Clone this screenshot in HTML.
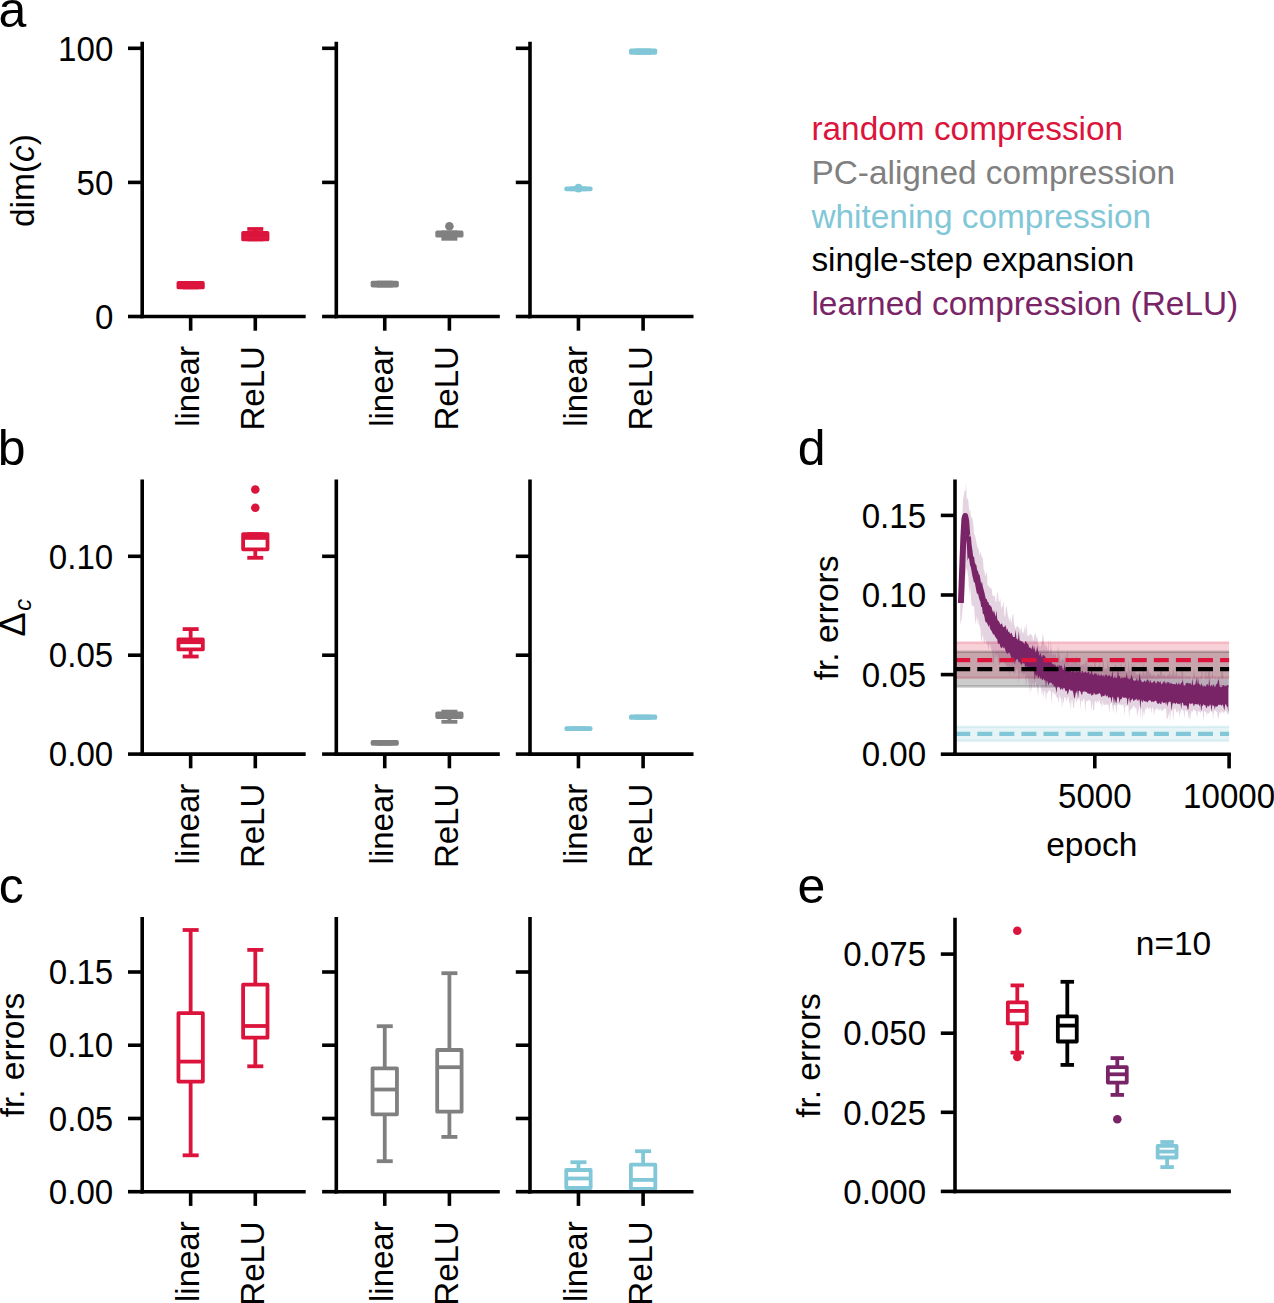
<!DOCTYPE html>
<html><head><meta charset="utf-8"><title>figure</title>
<style>html,body{margin:0;padding:0;background:#fff;overflow:hidden;}svg{display:block;}text{font-family:"Liberation Sans",sans-serif;}</style>
</head><body>
<svg width="1274" height="1303" viewBox="0 0 1274 1303" font-family="Liberation Sans, sans-serif">
<rect width="1274" height="1303" fill="#fff"/>
<text x="-1.60" y="27.40" font-size="50" text-anchor="start" fill="#000000" >a</text>
<text x="-2.20" y="465.00" font-size="50" text-anchor="start" fill="#000000" >b</text>
<text x="-1.20" y="902.90" font-size="50" text-anchor="start" fill="#000000" >c</text>
<text x="797.80" y="465.00" font-size="50" text-anchor="start" fill="#000000" >d</text>
<text x="797.60" y="902.90" font-size="50" text-anchor="start" fill="#000000" >e</text>
<text transform="translate(33.80,180.50) rotate(-90)" font-size="33.5" text-anchor="middle" fill="#000000">dim(<tspan font-style="italic">c</tspan>)</text>
<line x1="184.55" y1="283.00" x2="196.75" y2="283.00" stroke="#DC143C" stroke-width="3.8" stroke-linecap="square" />
<line x1="184.55" y1="287.40" x2="196.75" y2="287.40" stroke="#DC143C" stroke-width="3.8" stroke-linecap="square" />
<rect x="178.45" y="283.00" width="24.40" height="4.40" fill="none" stroke="#DC143C" stroke-width="3.8" stroke-linejoin="round"/>
<line x1="178.45" y1="285.20" x2="202.85" y2="285.20" stroke="#DC143C" stroke-width="3.8" stroke-linecap="butt" />
<line x1="255.30" y1="229.00" x2="255.30" y2="233.00" stroke="#DC143C" stroke-width="3.8" stroke-linecap="butt" />
<line x1="249.20" y1="229.00" x2="261.40" y2="229.00" stroke="#DC143C" stroke-width="3.8" stroke-linecap="square" />
<line x1="249.20" y1="239.40" x2="261.40" y2="239.40" stroke="#DC143C" stroke-width="3.8" stroke-linecap="square" />
<rect x="243.10" y="233.00" width="24.40" height="6.40" fill="none" stroke="#DC143C" stroke-width="3.8" stroke-linejoin="round"/>
<line x1="243.10" y1="236.00" x2="267.50" y2="236.00" stroke="#DC143C" stroke-width="3.8" stroke-linecap="butt" />
<line x1="378.65" y1="282.60" x2="390.85" y2="282.60" stroke="#808080" stroke-width="3.8" stroke-linecap="square" />
<line x1="378.65" y1="285.60" x2="390.85" y2="285.60" stroke="#808080" stroke-width="3.8" stroke-linecap="square" />
<rect x="372.55" y="282.60" width="24.40" height="3.00" fill="none" stroke="#808080" stroke-width="3.8" stroke-linejoin="round"/>
<line x1="372.55" y1="284.10" x2="396.95" y2="284.10" stroke="#808080" stroke-width="3.8" stroke-linecap="butt" />
<line x1="449.40" y1="235.70" x2="449.40" y2="238.80" stroke="#808080" stroke-width="3.8" stroke-linecap="butt" />
<line x1="443.30" y1="232.40" x2="455.50" y2="232.40" stroke="#808080" stroke-width="3.8" stroke-linecap="square" />
<line x1="443.30" y1="238.80" x2="455.50" y2="238.80" stroke="#808080" stroke-width="3.8" stroke-linecap="square" />
<rect x="437.20" y="232.40" width="24.40" height="3.30" fill="none" stroke="#808080" stroke-width="3.8" stroke-linejoin="round"/>
<line x1="437.20" y1="234.00" x2="461.60" y2="234.00" stroke="#808080" stroke-width="3.8" stroke-linecap="butt" />
<circle cx="449.40" cy="226.20" r="4.3" fill="#808080"/>
<line x1="572.35" y1="188.30" x2="584.55" y2="188.30" stroke="#82C7D7" stroke-width="3.8" stroke-linecap="square" />
<line x1="572.35" y1="189.30" x2="584.55" y2="189.30" stroke="#82C7D7" stroke-width="3.8" stroke-linecap="square" />
<rect x="566.25" y="188.30" width="24.40" height="1.00" fill="none" stroke="#82C7D7" stroke-width="3.8" stroke-linejoin="round"/>
<line x1="566.25" y1="188.80" x2="590.65" y2="188.80" stroke="#82C7D7" stroke-width="3.8" stroke-linecap="butt" />
<circle cx="578.45" cy="188.10" r="4.3" fill="#82C7D7"/>
<line x1="637.00" y1="50.30" x2="649.20" y2="50.30" stroke="#82C7D7" stroke-width="3.8" stroke-linecap="square" />
<line x1="637.00" y1="52.80" x2="649.20" y2="52.80" stroke="#82C7D7" stroke-width="3.8" stroke-linecap="square" />
<rect x="630.90" y="50.30" width="24.40" height="2.50" fill="none" stroke="#82C7D7" stroke-width="3.8" stroke-linejoin="round"/>
<line x1="630.90" y1="51.50" x2="655.30" y2="51.50" stroke="#82C7D7" stroke-width="3.8" stroke-linecap="butt" />
<text x="811.40" y="140.10" font-size="33.4" text-anchor="start" fill="#DC143C" >random compression</text>
<text x="811.40" y="183.82" font-size="33.4" text-anchor="start" fill="#808080" >PC-aligned compression</text>
<text x="811.40" y="227.54" font-size="33.4" text-anchor="start" fill="#82C7D7" >whitening compression</text>
<text x="811.40" y="271.26" font-size="33.4" text-anchor="start" fill="#000000" >single-step expansion</text>
<text x="811.40" y="314.98" font-size="33.4" text-anchor="start" fill="#7A2468" >learned compression (ReLU)</text>
<text transform="translate(24.8,636.4) rotate(-90)" font-size="36" text-anchor="start">Δ<tspan font-size="23.5" font-style="italic" dy="5.8" dx="1.5">c</tspan></text>
<line x1="190.65" y1="629.10" x2="190.65" y2="639.40" stroke="#DC143C" stroke-width="3.8" stroke-linecap="butt" />
<line x1="190.65" y1="649.40" x2="190.65" y2="656.50" stroke="#DC143C" stroke-width="3.8" stroke-linecap="butt" />
<line x1="184.55" y1="629.10" x2="196.75" y2="629.10" stroke="#DC143C" stroke-width="3.8" stroke-linecap="square" />
<line x1="184.55" y1="656.50" x2="196.75" y2="656.50" stroke="#DC143C" stroke-width="3.8" stroke-linecap="square" />
<rect x="178.45" y="639.40" width="24.40" height="10.00" fill="none" stroke="#DC143C" stroke-width="3.8" stroke-linejoin="round"/>
<line x1="178.45" y1="642.20" x2="202.85" y2="642.20" stroke="#DC143C" stroke-width="3.8" stroke-linecap="butt" />
<line x1="255.30" y1="549.30" x2="255.30" y2="557.80" stroke="#DC143C" stroke-width="3.8" stroke-linecap="butt" />
<line x1="249.20" y1="534.10" x2="261.40" y2="534.10" stroke="#DC143C" stroke-width="3.8" stroke-linecap="square" />
<line x1="249.20" y1="557.80" x2="261.40" y2="557.80" stroke="#DC143C" stroke-width="3.8" stroke-linecap="square" />
<rect x="243.10" y="534.10" width="24.40" height="15.20" fill="none" stroke="#DC143C" stroke-width="3.8" stroke-linejoin="round"/>
<line x1="243.10" y1="537.90" x2="267.50" y2="537.90" stroke="#DC143C" stroke-width="3.8" stroke-linecap="butt" />
<circle cx="255.30" cy="489.50" r="4.3" fill="#DC143C"/>
<circle cx="255.30" cy="507.70" r="4.3" fill="#DC143C"/>
<line x1="378.65" y1="742.00" x2="390.85" y2="742.00" stroke="#808080" stroke-width="3.8" stroke-linecap="square" />
<line x1="378.65" y1="743.80" x2="390.85" y2="743.80" stroke="#808080" stroke-width="3.8" stroke-linecap="square" />
<rect x="372.55" y="742.00" width="24.40" height="1.80" fill="none" stroke="#808080" stroke-width="3.8" stroke-linejoin="round"/>
<line x1="372.55" y1="742.90" x2="396.95" y2="742.90" stroke="#808080" stroke-width="3.8" stroke-linecap="butt" />
<line x1="449.40" y1="711.60" x2="449.40" y2="713.50" stroke="#808080" stroke-width="3.8" stroke-linecap="butt" />
<line x1="449.40" y1="717.00" x2="449.40" y2="721.80" stroke="#808080" stroke-width="3.8" stroke-linecap="butt" />
<line x1="443.30" y1="711.60" x2="455.50" y2="711.60" stroke="#808080" stroke-width="3.8" stroke-linecap="square" />
<line x1="443.30" y1="721.80" x2="455.50" y2="721.80" stroke="#808080" stroke-width="3.8" stroke-linecap="square" />
<rect x="437.20" y="713.50" width="24.40" height="3.50" fill="none" stroke="#808080" stroke-width="3.8" stroke-linejoin="round"/>
<line x1="437.20" y1="715.00" x2="461.60" y2="715.00" stroke="#808080" stroke-width="3.8" stroke-linecap="butt" />
<line x1="572.35" y1="728.20" x2="584.55" y2="728.20" stroke="#82C7D7" stroke-width="3.8" stroke-linecap="square" />
<line x1="572.35" y1="729.10" x2="584.55" y2="729.10" stroke="#82C7D7" stroke-width="3.8" stroke-linecap="square" />
<rect x="566.25" y="728.20" width="24.40" height="0.90" fill="none" stroke="#82C7D7" stroke-width="3.8" stroke-linejoin="round"/>
<line x1="566.25" y1="728.60" x2="590.65" y2="728.60" stroke="#82C7D7" stroke-width="3.8" stroke-linecap="butt" />
<line x1="637.00" y1="716.50" x2="649.20" y2="716.50" stroke="#82C7D7" stroke-width="3.8" stroke-linecap="square" />
<line x1="637.00" y1="717.90" x2="649.20" y2="717.90" stroke="#82C7D7" stroke-width="3.8" stroke-linecap="square" />
<rect x="630.90" y="716.50" width="24.40" height="1.40" fill="none" stroke="#82C7D7" stroke-width="3.8" stroke-linejoin="round"/>
<line x1="630.90" y1="717.20" x2="655.30" y2="717.20" stroke="#82C7D7" stroke-width="3.8" stroke-linecap="butt" />
<text transform="translate(24.20,1055.00) rotate(-90)" font-size="33.5" text-anchor="middle" fill="#000000">fr. errors</text>
<line x1="190.65" y1="930.00" x2="190.65" y2="1013.20" stroke="#DC143C" stroke-width="3.8" stroke-linecap="butt" />
<line x1="190.65" y1="1081.60" x2="190.65" y2="1155.30" stroke="#DC143C" stroke-width="3.8" stroke-linecap="butt" />
<line x1="184.55" y1="930.00" x2="196.75" y2="930.00" stroke="#DC143C" stroke-width="3.8" stroke-linecap="square" />
<line x1="184.55" y1="1155.30" x2="196.75" y2="1155.30" stroke="#DC143C" stroke-width="3.8" stroke-linecap="square" />
<rect x="178.45" y="1013.20" width="24.40" height="68.40" fill="none" stroke="#DC143C" stroke-width="3.8" stroke-linejoin="round"/>
<line x1="178.45" y1="1061.60" x2="202.85" y2="1061.60" stroke="#DC143C" stroke-width="3.8" stroke-linecap="butt" />
<line x1="255.30" y1="949.90" x2="255.30" y2="984.70" stroke="#DC143C" stroke-width="3.8" stroke-linecap="butt" />
<line x1="255.30" y1="1037.70" x2="255.30" y2="1066.30" stroke="#DC143C" stroke-width="3.8" stroke-linecap="butt" />
<line x1="249.20" y1="949.90" x2="261.40" y2="949.90" stroke="#DC143C" stroke-width="3.8" stroke-linecap="square" />
<line x1="249.20" y1="1066.30" x2="261.40" y2="1066.30" stroke="#DC143C" stroke-width="3.8" stroke-linecap="square" />
<rect x="243.10" y="984.70" width="24.40" height="53.00" fill="none" stroke="#DC143C" stroke-width="3.8" stroke-linejoin="round"/>
<line x1="243.10" y1="1026.00" x2="267.50" y2="1026.00" stroke="#DC143C" stroke-width="3.8" stroke-linecap="butt" />
<line x1="384.75" y1="1026.20" x2="384.75" y2="1068.30" stroke="#808080" stroke-width="3.8" stroke-linecap="butt" />
<line x1="384.75" y1="1114.30" x2="384.75" y2="1161.20" stroke="#808080" stroke-width="3.8" stroke-linecap="butt" />
<line x1="378.65" y1="1026.20" x2="390.85" y2="1026.20" stroke="#808080" stroke-width="3.8" stroke-linecap="square" />
<line x1="378.65" y1="1161.20" x2="390.85" y2="1161.20" stroke="#808080" stroke-width="3.8" stroke-linecap="square" />
<rect x="372.55" y="1068.30" width="24.40" height="46.00" fill="none" stroke="#808080" stroke-width="3.8" stroke-linejoin="round"/>
<line x1="372.55" y1="1089.50" x2="396.95" y2="1089.50" stroke="#808080" stroke-width="3.8" stroke-linecap="butt" />
<line x1="449.40" y1="973.20" x2="449.40" y2="1050.00" stroke="#808080" stroke-width="3.8" stroke-linecap="butt" />
<line x1="449.40" y1="1111.70" x2="449.40" y2="1136.90" stroke="#808080" stroke-width="3.8" stroke-linecap="butt" />
<line x1="443.30" y1="973.20" x2="455.50" y2="973.20" stroke="#808080" stroke-width="3.8" stroke-linecap="square" />
<line x1="443.30" y1="1136.90" x2="455.50" y2="1136.90" stroke="#808080" stroke-width="3.8" stroke-linecap="square" />
<rect x="437.20" y="1050.00" width="24.40" height="61.70" fill="none" stroke="#808080" stroke-width="3.8" stroke-linejoin="round"/>
<line x1="437.20" y1="1067.20" x2="461.60" y2="1067.20" stroke="#808080" stroke-width="3.8" stroke-linecap="butt" />
<line x1="578.45" y1="1162.20" x2="578.45" y2="1170.00" stroke="#82C7D7" stroke-width="3.8" stroke-linecap="butt" />
<line x1="578.45" y1="1188.00" x2="578.45" y2="1190.50" stroke="#82C7D7" stroke-width="3.8" stroke-linecap="butt" />
<line x1="572.35" y1="1162.20" x2="584.55" y2="1162.20" stroke="#82C7D7" stroke-width="3.8" stroke-linecap="square" />
<line x1="572.35" y1="1190.50" x2="584.55" y2="1190.50" stroke="#82C7D7" stroke-width="3.8" stroke-linecap="square" />
<rect x="566.25" y="1170.00" width="24.40" height="18.00" fill="none" stroke="#82C7D7" stroke-width="3.8" stroke-linejoin="round"/>
<line x1="566.25" y1="1178.50" x2="590.65" y2="1178.50" stroke="#82C7D7" stroke-width="3.8" stroke-linecap="butt" />
<line x1="643.10" y1="1151.20" x2="643.10" y2="1164.70" stroke="#82C7D7" stroke-width="3.8" stroke-linecap="butt" />
<line x1="643.10" y1="1189.00" x2="643.10" y2="1191.00" stroke="#82C7D7" stroke-width="3.8" stroke-linecap="butt" />
<line x1="637.00" y1="1151.20" x2="649.20" y2="1151.20" stroke="#82C7D7" stroke-width="3.8" stroke-linecap="square" />
<line x1="637.00" y1="1191.00" x2="649.20" y2="1191.00" stroke="#82C7D7" stroke-width="3.8" stroke-linecap="square" />
<rect x="630.90" y="1164.70" width="24.40" height="24.30" fill="none" stroke="#82C7D7" stroke-width="3.8" stroke-linejoin="round"/>
<line x1="630.90" y1="1179.90" x2="655.30" y2="1179.90" stroke="#82C7D7" stroke-width="3.8" stroke-linecap="butt" />
<text transform="translate(820.00,1055.50) rotate(-90)" font-size="33.5" text-anchor="middle" fill="#000000">fr. errors</text>
<text x="1135.80" y="954.80" font-size="33.5" text-anchor="start" fill="#000000" >n=10</text>
<line x1="1017.30" y1="985.40" x2="1017.30" y2="1002.30" stroke="#DC143C" stroke-width="3.8" stroke-linecap="butt" />
<line x1="1017.30" y1="1023.40" x2="1017.30" y2="1052.60" stroke="#DC143C" stroke-width="3.8" stroke-linecap="butt" />
<line x1="1012.45" y1="985.40" x2="1022.15" y2="985.40" stroke="#DC143C" stroke-width="3.8" stroke-linecap="square" />
<line x1="1012.45" y1="1052.60" x2="1022.15" y2="1052.60" stroke="#DC143C" stroke-width="3.8" stroke-linecap="square" />
<rect x="1007.85" y="1002.30" width="18.90" height="21.10" fill="none" stroke="#DC143C" stroke-width="3.8" stroke-linejoin="round"/>
<line x1="1007.85" y1="1010.90" x2="1026.75" y2="1010.90" stroke="#DC143C" stroke-width="3.8" stroke-linecap="butt" />
<circle cx="1017.30" cy="930.80" r="4.3" fill="#DC143C"/>
<circle cx="1017.30" cy="1056.90" r="4.3" fill="#DC143C"/>
<line x1="1067.30" y1="981.80" x2="1067.30" y2="1016.40" stroke="#000000" stroke-width="3.8" stroke-linecap="butt" />
<line x1="1067.30" y1="1041.50" x2="1067.30" y2="1064.90" stroke="#000000" stroke-width="3.8" stroke-linecap="butt" />
<line x1="1062.45" y1="981.80" x2="1072.15" y2="981.80" stroke="#000000" stroke-width="3.8" stroke-linecap="square" />
<line x1="1062.45" y1="1064.90" x2="1072.15" y2="1064.90" stroke="#000000" stroke-width="3.8" stroke-linecap="square" />
<rect x="1057.85" y="1016.40" width="18.90" height="25.10" fill="none" stroke="#000000" stroke-width="3.8" stroke-linejoin="round"/>
<line x1="1057.85" y1="1025.60" x2="1076.75" y2="1025.60" stroke="#000000" stroke-width="3.8" stroke-linecap="butt" />
<line x1="1117.30" y1="1058.10" x2="1117.30" y2="1067.10" stroke="#7A2468" stroke-width="3.8" stroke-linecap="butt" />
<line x1="1117.30" y1="1082.60" x2="1117.30" y2="1094.90" stroke="#7A2468" stroke-width="3.8" stroke-linecap="butt" />
<line x1="1112.45" y1="1058.10" x2="1122.15" y2="1058.10" stroke="#7A2468" stroke-width="3.8" stroke-linecap="square" />
<line x1="1112.45" y1="1094.90" x2="1122.15" y2="1094.90" stroke="#7A2468" stroke-width="3.8" stroke-linecap="square" />
<rect x="1107.85" y="1067.10" width="18.90" height="15.50" fill="none" stroke="#7A2468" stroke-width="3.8" stroke-linejoin="round"/>
<line x1="1107.85" y1="1074.30" x2="1126.75" y2="1074.30" stroke="#7A2468" stroke-width="3.8" stroke-linecap="butt" />
<circle cx="1117.30" cy="1119.20" r="4.3" fill="#7A2468"/>
<line x1="1167.10" y1="1142.00" x2="1167.10" y2="1145.90" stroke="#82C7D7" stroke-width="3.8" stroke-linecap="butt" />
<line x1="1167.10" y1="1157.50" x2="1167.10" y2="1167.10" stroke="#82C7D7" stroke-width="3.8" stroke-linecap="butt" />
<line x1="1162.25" y1="1142.00" x2="1171.95" y2="1142.00" stroke="#82C7D7" stroke-width="3.8" stroke-linecap="square" />
<line x1="1162.25" y1="1167.10" x2="1171.95" y2="1167.10" stroke="#82C7D7" stroke-width="3.8" stroke-linecap="square" />
<rect x="1157.65" y="1145.90" width="18.90" height="11.60" fill="none" stroke="#82C7D7" stroke-width="3.8" stroke-linejoin="round"/>
<line x1="1157.65" y1="1151.60" x2="1176.55" y2="1151.60" stroke="#82C7D7" stroke-width="3.8" stroke-linecap="butt" />
<rect x="955.00" y="642.50" width="274.10" height="35.20" fill="#DC143C" fill-opacity="0.2"/>
<line x1="955.00" y1="642.50" x2="1229.10" y2="642.50" stroke="#DC143C" stroke-opacity="0.2" stroke-width="2.5"/>
<line x1="955.00" y1="677.70" x2="1229.10" y2="677.70" stroke="#DC143C" stroke-opacity="0.2" stroke-width="2.5"/>
<rect x="955.00" y="651.80" width="274.10" height="34.60" fill="#000000" fill-opacity="0.2"/>
<line x1="955.00" y1="651.80" x2="1229.10" y2="651.80" stroke="#000000" stroke-opacity="0.2" stroke-width="2.5"/>
<line x1="955.00" y1="686.40" x2="1229.10" y2="686.40" stroke="#000000" stroke-opacity="0.2" stroke-width="2.5"/>
<rect x="955.00" y="726.80" width="274.10" height="14.00" fill="#82C7D7" fill-opacity="0.2"/>
<line x1="955.00" y1="726.80" x2="1229.10" y2="726.80" stroke="#82C7D7" stroke-opacity="0.2" stroke-width="2.5"/>
<line x1="955.00" y1="740.80" x2="1229.10" y2="740.80" stroke="#82C7D7" stroke-opacity="0.2" stroke-width="2.5"/>
<polygon points="960.2,622.0 960.2,590.0 961.5,540.0 963.0,500.0 964.5,491.0 965.5,491.0 966.0,482.5 966.8,500.2 967.6,497.9 968.4,501.0 969.2,512.2 970.0,508.8 970.8,516.3 971.6,516.9 972.4,518.7 973.2,522.9 974.0,533.3 974.8,535.5 975.6,538.0 976.4,541.9 977.2,546.8 978.0,547.4 978.8,550.2 979.6,555.7 980.4,551.7 981.2,554.3 982.0,558.4 982.8,556.7 983.6,569.5 984.4,570.4 985.2,576.5 986.0,574.2 986.8,571.3 987.6,586.2 988.4,585.0 989.2,586.6 990.0,587.4 990.8,589.6 991.6,587.4 992.4,595.0 993.2,596.5 994.0,595.6 994.8,595.4 995.6,601.6 996.4,602.6 997.2,590.6 998.0,595.1 998.8,602.2 999.6,601.1 1000.4,598.4 1001.2,609.7 1002.0,605.2 1002.8,606.7 1003.6,600.6 1004.4,615.3 1005.2,617.1 1006.0,607.0 1006.8,606.6 1007.6,614.2 1008.4,617.3 1009.2,619.3 1010.0,622.7 1010.8,616.4 1011.6,624.8 1012.4,614.9 1013.2,613.9 1014.0,624.0 1014.8,626.3 1015.6,628.9 1016.4,626.9 1017.2,625.6 1018.0,626.8 1018.8,627.7 1019.6,628.3 1020.4,631.9 1021.2,625.8 1022.0,631.6 1022.8,633.7 1023.6,632.5 1024.4,625.7 1025.2,635.3 1026.0,623.3 1026.8,628.1 1027.6,636.5 1028.4,635.5 1029.2,635.8 1030.0,633.5 1030.8,634.7 1031.6,634.7 1032.4,636.0 1033.2,641.6 1034.0,637.3 1034.8,634.2 1035.6,632.2 1036.4,639.0 1037.2,635.6 1038.0,643.1 1038.8,644.3 1039.6,646.3 1040.4,646.8 1041.2,644.0 1042.0,640.3 1042.8,633.0 1043.6,638.6 1044.4,645.4 1045.2,644.0 1046.0,647.7 1046.8,644.1 1047.6,651.7 1048.4,639.2 1049.2,654.2 1050.0,653.2 1050.8,639.7 1051.6,651.9 1052.4,655.9 1053.2,652.7 1054.0,654.8 1054.8,655.7 1055.6,652.4 1056.4,658.3 1057.2,658.4 1058.0,644.3 1058.8,655.4 1059.6,653.5 1060.4,660.2 1061.2,660.7 1062.0,659.8 1062.8,657.0 1063.6,660.0 1064.4,660.7 1065.2,653.4 1066.0,663.0 1066.8,654.2 1067.6,650.9 1068.4,663.3 1069.2,663.0 1070.0,662.4 1070.8,664.4 1071.6,661.5 1072.4,662.7 1073.2,662.7 1074.0,657.6 1074.8,664.5 1075.6,661.5 1076.4,655.0 1077.2,663.3 1078.0,664.7 1078.8,657.4 1079.6,663.3 1080.4,666.0 1081.2,664.3 1082.0,666.0 1082.8,663.9 1083.6,664.1 1084.4,666.5 1085.2,659.6 1086.0,666.0 1086.8,659.8 1087.6,667.4 1088.4,666.2 1089.2,665.3 1090.0,665.5 1090.8,667.6 1091.6,665.1 1092.4,665.0 1093.2,668.2 1094.0,665.8 1094.8,657.1 1095.6,664.9 1096.4,668.8 1097.2,668.6 1098.0,666.7 1098.8,666.2 1099.6,662.8 1100.4,669.1 1101.2,669.1 1102.0,669.0 1102.8,666.3 1103.6,659.3 1104.4,668.9 1105.2,668.9 1106.0,668.7 1106.8,668.4 1107.6,658.1 1108.4,666.7 1109.2,667.8 1110.0,670.9 1110.8,670.0 1111.6,671.1 1112.4,667.2 1113.2,671.4 1114.0,666.1 1114.8,668.8 1115.6,662.4 1116.4,669.3 1117.2,670.2 1118.0,668.4 1118.8,668.2 1119.6,670.4 1120.4,669.8 1121.2,660.0 1122.0,671.6 1122.8,671.6 1123.6,671.8 1124.4,672.6 1125.2,658.6 1126.0,671.1 1126.8,672.7 1127.6,671.4 1128.4,659.8 1129.2,669.4 1130.0,670.2 1130.8,672.5 1131.6,662.2 1132.4,669.7 1133.2,663.7 1134.0,673.4 1134.8,662.6 1135.6,673.5 1136.4,674.2 1137.2,674.6 1138.0,673.9 1138.8,673.9 1139.6,671.7 1140.4,672.9 1141.2,675.2 1142.0,673.9 1142.8,673.1 1143.6,662.3 1144.4,675.2 1145.2,673.9 1146.0,672.2 1146.8,665.9 1147.6,672.5 1148.4,667.4 1149.2,672.5 1150.0,673.8 1150.8,672.7 1151.6,675.7 1152.4,675.9 1153.2,673.9 1154.0,674.8 1154.8,675.9 1155.6,676.9 1156.4,676.6 1157.2,674.1 1158.0,673.5 1158.8,674.0 1159.6,675.8 1160.4,668.1 1161.2,666.5 1162.0,673.6 1162.8,676.1 1163.6,676.0 1164.4,673.5 1165.2,675.6 1166.0,677.3 1166.8,676.5 1167.6,674.4 1168.4,673.8 1169.2,675.9 1170.0,669.0 1170.8,678.1 1171.6,674.6 1172.4,674.3 1173.2,668.1 1174.0,671.9 1174.8,677.6 1175.6,675.1 1176.4,665.5 1177.2,677.7 1178.0,678.3 1178.8,672.2 1179.6,677.4 1180.4,677.3 1181.2,676.2 1182.0,665.1 1182.8,671.4 1183.6,678.1 1184.4,679.1 1185.2,676.0 1186.0,675.2 1186.8,679.2 1187.6,675.9 1188.4,677.7 1189.2,677.6 1190.0,676.0 1190.8,679.1 1191.6,679.2 1192.4,679.4 1193.2,677.4 1194.0,668.6 1194.8,675.8 1195.6,678.5 1196.4,676.4 1197.2,677.5 1198.0,676.9 1198.8,677.9 1199.6,678.9 1200.4,676.1 1201.2,677.7 1202.0,667.2 1202.8,678.6 1203.6,680.0 1204.4,678.0 1205.2,676.8 1206.0,665.3 1206.8,679.0 1207.6,676.8 1208.4,670.7 1209.2,666.9 1210.0,673.3 1210.8,679.1 1211.6,680.1 1212.4,668.3 1213.2,679.9 1214.0,679.3 1214.8,678.0 1215.6,676.6 1216.4,679.3 1217.2,677.7 1218.0,676.7 1218.8,679.1 1219.6,677.0 1220.4,679.5 1221.2,673.8 1222.0,667.5 1222.8,671.4 1223.6,677.9 1224.4,679.7 1225.2,677.0 1226.0,677.9 1226.8,678.7 1227.6,678.0 1228.4,678.6 1228.4,713.9 1227.6,714.8 1226.8,712.0 1226.0,710.9 1225.2,710.8 1224.4,712.6 1223.6,713.3 1222.8,711.0 1222.0,713.2 1221.2,710.5 1220.4,713.7 1219.6,711.8 1218.8,717.3 1218.0,718.2 1217.2,712.4 1216.4,711.4 1215.6,710.3 1214.8,711.3 1214.0,710.2 1213.2,719.3 1212.4,712.1 1211.6,712.2 1210.8,710.6 1210.0,710.5 1209.2,713.4 1208.4,713.5 1207.6,712.3 1206.8,716.4 1206.0,711.6 1205.2,712.2 1204.4,710.3 1203.6,721.7 1202.8,712.0 1202.0,709.8 1201.2,711.0 1200.4,713.7 1199.6,711.6 1198.8,711.5 1198.0,709.7 1197.2,717.5 1196.4,712.7 1195.6,711.1 1194.8,710.2 1194.0,710.1 1193.2,709.4 1192.4,712.5 1191.6,710.7 1190.8,715.0 1190.0,720.9 1189.2,713.2 1188.4,719.6 1187.6,710.2 1186.8,712.1 1186.0,710.8 1185.2,709.3 1184.4,718.5 1183.6,710.7 1182.8,710.4 1182.0,709.5 1181.2,710.2 1180.4,712.6 1179.6,717.3 1178.8,710.2 1178.0,710.7 1177.2,712.4 1176.4,712.6 1175.6,708.9 1174.8,708.5 1174.0,710.1 1173.2,721.1 1172.4,709.3 1171.6,709.5 1170.8,712.0 1170.0,720.8 1169.2,711.6 1168.4,715.7 1167.6,718.4 1166.8,719.4 1166.0,709.0 1165.2,708.1 1164.4,709.1 1163.6,710.0 1162.8,710.1 1162.0,710.8 1161.2,711.6 1160.4,708.6 1159.6,709.7 1158.8,711.0 1158.0,707.2 1157.2,710.3 1156.4,708.5 1155.6,708.7 1154.8,711.2 1154.0,715.3 1153.2,708.8 1152.4,707.1 1151.6,713.7 1150.8,707.9 1150.0,707.7 1149.2,709.4 1148.4,708.9 1147.6,706.8 1146.8,708.1 1146.0,710.8 1145.2,707.0 1144.4,715.2 1143.6,710.5 1142.8,720.2 1142.0,709.1 1141.2,708.2 1140.4,720.3 1139.6,705.8 1138.8,708.2 1138.0,713.5 1137.2,716.5 1136.4,708.4 1135.6,706.7 1134.8,709.3 1134.0,706.0 1133.2,705.7 1132.4,708.3 1131.6,708.6 1130.8,710.8 1130.0,708.4 1129.2,718.4 1128.4,706.0 1127.6,704.4 1126.8,704.0 1126.0,707.9 1125.2,703.6 1124.4,716.9 1123.6,704.0 1122.8,705.7 1122.0,704.1 1121.2,706.4 1120.4,704.0 1119.6,705.3 1118.8,704.2 1118.0,703.9 1117.2,705.9 1116.4,714.6 1115.6,705.8 1114.8,705.2 1114.0,705.2 1113.2,713.6 1112.4,706.1 1111.6,702.2 1110.8,702.9 1110.0,704.9 1109.2,713.3 1108.4,704.0 1107.6,704.6 1106.8,705.4 1106.0,703.4 1105.2,704.7 1104.4,705.1 1103.6,704.9 1102.8,700.6 1102.0,708.8 1101.2,703.4 1100.4,704.2 1099.6,700.6 1098.8,700.7 1098.0,702.9 1097.2,699.9 1096.4,703.5 1095.6,701.3 1094.8,700.6 1094.0,711.0 1093.2,710.0 1092.4,701.6 1091.6,712.0 1090.8,702.0 1090.0,700.1 1089.2,700.9 1088.4,699.7 1087.6,701.3 1086.8,700.2 1086.0,702.8 1085.2,712.4 1084.4,699.0 1083.6,698.8 1082.8,701.3 1082.0,701.9 1081.2,699.3 1080.4,709.8 1079.6,698.3 1078.8,698.1 1078.0,700.7 1077.2,698.8 1076.4,704.0 1075.6,697.8 1074.8,700.5 1074.0,707.8 1073.2,708.1 1072.4,699.4 1071.6,699.7 1070.8,710.1 1070.0,699.9 1069.2,704.5 1068.4,696.6 1067.6,697.2 1066.8,700.8 1066.0,699.6 1065.2,697.3 1064.4,696.9 1063.6,703.9 1062.8,698.1 1062.0,708.6 1061.2,699.6 1060.4,697.2 1059.6,694.5 1058.8,703.4 1058.0,698.4 1057.2,697.7 1056.4,696.7 1055.6,695.1 1054.8,692.4 1054.0,695.1 1053.2,691.8 1052.4,692.3 1051.6,704.2 1050.8,691.5 1050.0,690.8 1049.2,690.2 1048.4,691.2 1047.6,693.0 1046.8,693.2 1046.0,700.9 1045.2,690.9 1044.4,690.8 1043.6,698.3 1042.8,689.9 1042.0,695.8 1041.2,690.0 1040.4,685.7 1039.6,684.7 1038.8,685.7 1038.0,696.4 1037.2,687.9 1036.4,685.5 1035.6,681.7 1034.8,686.0 1034.0,687.8 1033.2,683.6 1032.4,683.7 1031.6,691.7 1030.8,680.3 1030.0,694.2 1029.2,685.6 1028.4,681.8 1027.6,676.9 1026.8,678.1 1026.0,687.7 1025.2,673.3 1024.4,675.1 1023.6,676.6 1022.8,673.7 1022.0,672.7 1021.2,676.9 1020.4,670.5 1019.6,674.2 1018.8,683.3 1018.0,671.3 1017.2,668.7 1016.4,668.8 1015.6,671.4 1014.8,675.1 1014.0,668.1 1013.2,674.9 1012.4,669.1 1011.6,668.0 1010.8,668.0 1010.0,668.6 1009.2,677.0 1008.4,667.5 1007.6,671.2 1006.8,666.3 1006.0,665.9 1005.2,662.2 1004.4,664.9 1003.6,659.7 1002.8,657.9 1002.0,657.2 1001.2,662.8 1000.4,662.4 999.6,665.4 998.8,663.5 998.0,660.5 997.2,653.9 996.4,655.2 995.6,658.0 994.8,649.8 994.0,663.1 993.2,663.6 992.4,652.8 991.6,649.9 990.8,647.8 990.0,643.7 989.2,645.7 988.4,650.3 987.6,644.4 986.8,644.2 986.0,642.4 985.2,638.6 984.4,644.0 983.6,641.1 982.8,634.3 982.0,638.6 981.2,642.5 980.4,628.6 979.6,625.6 978.8,624.7 978.0,616.6 977.2,624.8 976.4,615.8 975.6,624.5 974.8,617.6 974.0,605.3 973.2,607.0 972.4,605.9 971.6,604.6 970.8,594.7 970.0,583.9 969.2,595.7 968.4,577.1 967.6,573.1 966.8,568.1 966.0,571.2 965.5,575.0 963.0,605.0 961.5,620.0 960.2,624.0" fill="#7A2468" fill-opacity="0.2" stroke="none"/>
<polygon points="966.0,515.9 966.8,522.9 967.6,526.1 968.4,532.8 969.2,534.7 970.0,537.4 970.8,534.9 971.6,544.8 972.4,550.1 973.2,556.8 974.0,556.4 974.8,562.3 975.6,564.2 976.4,565.2 977.2,570.3 978.0,571.1 978.8,574.3 979.6,574.8 980.4,578.9 981.2,583.9 982.0,581.2 982.8,586.4 983.6,589.5 984.4,592.4 985.2,596.3 986.0,599.5 986.8,598.7 987.6,601.9 988.4,601.9 989.2,605.0 990.0,605.0 990.8,606.5 991.6,607.1 992.4,610.5 993.2,612.7 994.0,610.2 994.8,613.5 995.6,617.0 996.4,610.3 997.2,618.7 998.0,620.8 998.8,620.9 999.6,622.7 1000.4,624.7 1001.2,623.7 1002.0,623.5 1002.8,626.5 1003.6,627.2 1004.4,627.0 1005.2,625.0 1006.0,627.1 1006.8,630.7 1007.6,628.2 1008.4,632.2 1009.2,631.6 1010.0,633.6 1010.8,633.7 1011.6,632.6 1012.4,635.2 1013.2,636.9 1014.0,636.9 1014.8,637.0 1015.6,629.7 1016.4,637.9 1017.2,639.4 1018.0,639.3 1018.8,630.9 1019.6,640.7 1020.4,640.4 1021.2,641.3 1022.0,641.6 1022.8,641.8 1023.6,642.9 1024.4,644.2 1025.2,641.2 1026.0,641.2 1026.8,643.0 1027.6,643.9 1028.4,644.4 1029.2,647.9 1030.0,647.3 1030.8,648.1 1031.6,649.4 1032.4,644.5 1033.2,650.0 1034.0,645.5 1034.8,649.1 1035.6,653.1 1036.4,650.6 1037.2,645.5 1038.0,650.8 1038.8,652.4 1039.6,655.9 1040.4,652.5 1041.2,655.5 1042.0,657.6 1042.8,654.9 1043.6,655.1 1044.4,655.8 1045.2,656.6 1046.0,658.7 1046.8,659.5 1047.6,660.8 1048.4,659.4 1049.2,659.9 1050.0,660.0 1050.8,660.3 1051.6,662.6 1052.4,664.1 1053.2,663.8 1054.0,665.6 1054.8,663.7 1055.6,665.6 1056.4,666.6 1057.2,667.1 1058.0,664.3 1058.8,667.8 1059.6,664.7 1060.4,666.1 1061.2,665.6 1062.0,666.2 1062.8,669.6 1063.6,670.1 1064.4,662.7 1065.2,670.0 1066.0,667.6 1066.8,668.8 1067.6,670.8 1068.4,669.4 1069.2,669.3 1070.0,671.3 1070.8,670.2 1071.6,672.5 1072.4,671.4 1073.2,669.5 1074.0,672.6 1074.8,670.6 1075.6,673.0 1076.4,670.2 1077.2,671.8 1078.0,671.7 1078.8,671.7 1079.6,670.1 1080.4,670.8 1081.2,673.8 1082.0,670.8 1082.8,671.0 1083.6,673.2 1084.4,672.4 1085.2,671.5 1086.0,672.0 1086.8,673.3 1087.6,672.4 1088.4,671.7 1089.2,672.3 1090.0,675.0 1090.8,673.1 1091.6,668.0 1092.4,673.7 1093.2,675.0 1094.0,674.4 1094.8,672.5 1095.6,673.8 1096.4,673.2 1097.2,675.4 1098.0,675.6 1098.8,673.3 1099.6,676.6 1100.4,675.5 1101.2,674.3 1102.0,675.3 1102.8,676.5 1103.6,675.0 1104.4,677.2 1105.2,673.9 1106.0,675.5 1106.8,674.4 1107.6,676.4 1108.4,675.7 1109.2,674.4 1110.0,676.2 1110.8,676.7 1111.6,676.5 1112.4,669.8 1113.2,678.0 1114.0,678.2 1114.8,675.9 1115.6,677.7 1116.4,678.2 1117.2,677.5 1118.0,669.2 1118.8,675.9 1119.6,675.7 1120.4,679.1 1121.2,676.8 1122.0,678.6 1122.8,677.8 1123.6,677.7 1124.4,677.6 1125.2,676.9 1126.0,678.2 1126.8,672.3 1127.6,678.5 1128.4,678.2 1129.2,679.7 1130.0,677.9 1130.8,678.5 1131.6,673.9 1132.4,677.6 1133.2,679.8 1134.0,680.7 1134.8,680.7 1135.6,680.6 1136.4,678.0 1137.2,681.6 1138.0,678.3 1138.8,681.6 1139.6,673.3 1140.4,678.9 1141.2,680.8 1142.0,681.9 1142.8,682.3 1143.6,681.7 1144.4,680.4 1145.2,680.9 1146.0,682.4 1146.8,679.8 1147.6,679.4 1148.4,679.7 1149.2,683.3 1150.0,680.0 1150.8,681.1 1151.6,683.1 1152.4,683.1 1153.2,681.3 1154.0,681.9 1154.8,680.4 1155.6,683.2 1156.4,683.5 1157.2,681.6 1158.0,681.0 1158.8,682.1 1159.6,682.4 1160.4,681.1 1161.2,683.9 1162.0,684.2 1162.8,682.4 1163.6,681.8 1164.4,680.8 1165.2,683.9 1166.0,681.4 1166.8,683.9 1167.6,681.7 1168.4,682.6 1169.2,681.9 1170.0,684.6 1170.8,682.7 1171.6,683.3 1172.4,683.9 1173.2,684.3 1174.0,684.1 1174.8,683.9 1175.6,684.7 1176.4,682.2 1177.2,684.5 1178.0,684.5 1178.8,682.5 1179.6,684.3 1180.4,684.7 1181.2,682.3 1182.0,683.0 1182.8,679.0 1183.6,685.1 1184.4,685.8 1185.2,685.4 1186.0,683.0 1186.8,683.1 1187.6,682.4 1188.4,683.6 1189.2,683.5 1190.0,682.7 1190.8,683.9 1191.6,685.2 1192.4,678.0 1193.2,685.9 1194.0,684.0 1194.8,685.3 1195.6,683.6 1196.4,677.5 1197.2,684.7 1198.0,677.7 1198.8,683.6 1199.6,684.2 1200.4,686.0 1201.2,683.1 1202.0,685.0 1202.8,686.5 1203.6,686.4 1204.4,685.9 1205.2,686.6 1206.0,686.5 1206.8,684.0 1207.6,684.3 1208.4,686.4 1209.2,677.5 1210.0,686.1 1210.8,686.4 1211.6,684.5 1212.4,687.0 1213.2,683.8 1214.0,685.8 1214.8,687.2 1215.6,686.3 1216.4,684.0 1217.2,683.7 1218.0,680.5 1218.8,678.9 1219.6,686.3 1220.4,687.1 1221.2,687.2 1222.0,686.7 1222.8,685.2 1223.6,685.1 1224.4,686.3 1225.2,685.8 1226.0,686.4 1226.8,685.6 1227.6,685.0 1228.4,685.7 1228.4,713.2 1227.6,707.1 1226.8,706.4 1226.0,704.5 1225.2,704.2 1224.4,710.4 1223.6,707.6 1222.8,704.3 1222.0,705.5 1221.2,705.8 1220.4,704.6 1219.6,705.1 1218.8,704.4 1218.0,705.4 1217.2,706.5 1216.4,706.8 1215.6,706.0 1214.8,709.5 1214.0,705.5 1213.2,706.1 1212.4,704.4 1211.6,711.6 1210.8,705.8 1210.0,704.3 1209.2,706.3 1208.4,706.4 1207.6,705.2 1206.8,708.4 1206.0,707.3 1205.2,705.0 1204.4,705.3 1203.6,704.1 1202.8,705.9 1202.0,705.8 1201.2,712.0 1200.4,703.6 1199.6,706.4 1198.8,704.8 1198.0,703.5 1197.2,705.0 1196.4,704.0 1195.6,704.2 1194.8,703.7 1194.0,706.5 1193.2,704.7 1192.4,703.1 1191.6,703.5 1190.8,704.5 1190.0,703.2 1189.2,703.5 1188.4,709.5 1187.6,709.4 1186.8,705.7 1186.0,705.6 1185.2,705.4 1184.4,705.5 1183.6,705.5 1182.8,702.4 1182.0,703.1 1181.2,708.9 1180.4,702.6 1179.6,704.6 1178.8,703.5 1178.0,704.3 1177.2,703.6 1176.4,702.4 1175.6,704.5 1174.8,702.7 1174.0,703.8 1173.2,702.8 1172.4,703.9 1171.6,711.3 1170.8,702.8 1170.0,701.4 1169.2,701.7 1168.4,702.3 1167.6,707.0 1166.8,701.8 1166.0,704.9 1165.2,702.2 1164.4,702.8 1163.6,702.9 1162.8,702.8 1162.0,701.0 1161.2,704.3 1160.4,703.9 1159.6,702.4 1158.8,704.3 1158.0,703.2 1157.2,703.7 1156.4,701.2 1155.6,700.6 1154.8,701.2 1154.0,701.4 1153.2,702.3 1152.4,701.2 1151.6,702.3 1150.8,700.9 1150.0,700.0 1149.2,700.4 1148.4,700.7 1147.6,702.8 1146.8,701.6 1146.0,701.7 1145.2,701.3 1144.4,701.4 1143.6,699.8 1142.8,702.4 1142.0,701.6 1141.2,699.4 1140.4,709.3 1139.6,699.3 1138.8,700.8 1138.0,699.1 1137.2,701.3 1136.4,698.4 1135.6,699.8 1134.8,699.7 1134.0,701.1 1133.2,700.8 1132.4,698.0 1131.6,700.0 1130.8,700.2 1130.0,703.6 1129.2,697.2 1128.4,699.4 1127.6,706.4 1126.8,697.6 1126.0,698.7 1125.2,697.0 1124.4,697.9 1123.6,698.0 1122.8,696.4 1122.0,698.3 1121.2,699.4 1120.4,699.0 1119.6,703.3 1118.8,697.9 1118.0,696.6 1117.2,697.9 1116.4,703.5 1115.6,702.3 1114.8,698.4 1114.0,704.8 1113.2,697.4 1112.4,696.5 1111.6,703.0 1110.8,697.8 1110.0,697.4 1109.2,696.8 1108.4,698.6 1107.6,695.4 1106.8,695.7 1106.0,697.0 1105.2,694.0 1104.4,696.1 1103.6,696.3 1102.8,695.5 1102.0,696.9 1101.2,696.8 1100.4,693.9 1099.6,693.2 1098.8,693.3 1098.0,694.2 1097.2,694.3 1096.4,694.6 1095.6,694.5 1094.8,694.6 1094.0,692.5 1093.2,695.0 1092.4,695.0 1091.6,695.9 1090.8,693.6 1090.0,693.5 1089.2,694.5 1088.4,693.3 1087.6,693.5 1086.8,692.2 1086.0,691.7 1085.2,691.8 1084.4,691.6 1083.6,691.6 1082.8,691.8 1082.0,695.3 1081.2,693.7 1080.4,691.5 1079.6,690.4 1078.8,691.2 1078.0,698.7 1077.2,690.2 1076.4,692.5 1075.6,693.4 1074.8,698.6 1074.0,697.2 1073.2,692.4 1072.4,690.5 1071.6,690.5 1070.8,691.1 1070.0,689.5 1069.2,689.3 1068.4,692.4 1067.6,695.1 1066.8,690.5 1066.0,691.5 1065.2,690.6 1064.4,687.9 1063.6,687.7 1062.8,690.6 1062.0,688.1 1061.2,689.0 1060.4,690.1 1059.6,687.0 1058.8,687.2 1058.0,686.3 1057.2,687.2 1056.4,693.2 1055.6,687.6 1054.8,685.9 1054.0,687.2 1053.2,683.9 1052.4,684.7 1051.6,682.9 1050.8,682.8 1050.0,682.4 1049.2,683.4 1048.4,685.6 1047.6,682.1 1046.8,680.5 1046.0,687.8 1045.2,679.5 1044.4,681.0 1043.6,678.4 1042.8,679.8 1042.0,680.4 1041.2,677.2 1040.4,679.4 1039.6,675.8 1038.8,678.0 1038.0,677.9 1037.2,674.4 1036.4,676.5 1035.6,673.8 1034.8,681.1 1034.0,671.5 1033.2,671.0 1032.4,669.8 1031.6,670.0 1030.8,671.8 1030.0,669.3 1029.2,668.9 1028.4,669.9 1027.6,666.9 1026.8,665.9 1026.0,667.3 1025.2,667.3 1024.4,663.2 1023.6,663.7 1022.8,662.3 1022.0,664.0 1021.2,665.0 1020.4,662.9 1019.6,662.0 1018.8,662.6 1018.0,660.6 1017.2,658.8 1016.4,659.5 1015.6,661.0 1014.8,664.5 1014.0,658.6 1013.2,657.7 1012.4,657.4 1011.6,660.0 1010.8,656.2 1010.0,653.7 1009.2,652.5 1008.4,653.1 1007.6,654.1 1006.8,653.3 1006.0,651.9 1005.2,649.7 1004.4,647.3 1003.6,648.6 1002.8,646.3 1002.0,648.1 1001.2,648.3 1000.4,646.7 999.6,643.7 998.8,643.5 998.0,644.0 997.2,639.2 996.4,638.4 995.6,637.3 994.8,636.0 994.0,634.1 993.2,634.7 992.4,632.8 991.6,630.9 990.8,629.9 990.0,628.5 989.2,624.6 988.4,627.1 987.6,624.3 986.8,622.6 986.0,622.5 985.2,621.0 984.4,616.5 983.6,614.0 982.8,613.7 982.0,606.8 981.2,607.2 980.4,601.8 979.6,600.0 978.8,597.2 978.0,593.2 977.2,594.4 976.4,591.2 975.6,587.0 974.8,582.5 974.0,582.5 973.2,579.2 972.4,576.1 971.6,571.5 970.8,567.0 970.0,565.2 969.2,559.3 968.4,557.5 967.6,560.9 966.8,544.7 966.0,539.2" fill="#7A2468" stroke="none"/>
<polyline points="960.9,603.0 961.5,588.0 962.4,563.0 963.4,537.0 964.4,519.0 965.2,516.0 966.2,521.0 967.2,535.0" fill="none" stroke="#7A2468" stroke-width="6" stroke-linejoin="round"/>
<line x1="955.2" y1="660.1" x2="1229.10" y2="660.1" stroke="#DC143C" stroke-width="4.2" stroke-dasharray="15.0 7.07"/>
<line x1="955.2" y1="669.1" x2="1229.10" y2="669.1" stroke="#000000" stroke-width="4.2" stroke-dasharray="15.0 7.07"/>
<line x1="955.2" y1="733.8" x2="1229.10" y2="733.8" stroke="#82C7D7" stroke-width="4.2" stroke-dasharray="15.0 7.07"/>
<text transform="translate(1094.80,807.80) scale(0.92,1)" font-size="36" text-anchor="middle">5000</text>
<text transform="translate(1229.10,807.80) scale(0.92,1)" font-size="36" text-anchor="middle">10000</text>
<text x="1091.80" y="856.10" font-size="33.5" text-anchor="middle" fill="#000000" >epoch</text>
<text transform="translate(837.60,617.90) rotate(-90)" font-size="33.5" text-anchor="middle" fill="#000000">fr. errors</text>
<line x1="142.20" y1="41.80" x2="142.20" y2="318.30" stroke="#000000" stroke-width="3.6" stroke-linecap="butt" />
<line x1="140.40" y1="316.50" x2="305.70" y2="316.50" stroke="#000000" stroke-width="3.6" stroke-linecap="butt" />
<line x1="128.00" y1="316.50" x2="142.20" y2="316.50" stroke="#000000" stroke-width="3.6" stroke-linecap="butt" />
<text transform="translate(113.30,328.70) scale(0.92,1)" font-size="36" text-anchor="end">0</text>
<line x1="128.00" y1="182.40" x2="142.20" y2="182.40" stroke="#000000" stroke-width="3.6" stroke-linecap="butt" />
<text transform="translate(113.30,194.60) scale(0.92,1)" font-size="36" text-anchor="end">50</text>
<line x1="128.00" y1="48.30" x2="142.20" y2="48.30" stroke="#000000" stroke-width="3.6" stroke-linecap="butt" />
<text transform="translate(113.30,60.50) scale(0.92,1)" font-size="36" text-anchor="end">100</text>
<line x1="190.65" y1="316.50" x2="190.65" y2="330.70" stroke="#000000" stroke-width="3.6" stroke-linecap="butt" />
<text transform="translate(199.25,346.10) rotate(-90)" font-size="33" text-anchor="end" fill="#000000">linear</text>
<line x1="255.30" y1="316.50" x2="255.30" y2="330.70" stroke="#000000" stroke-width="3.6" stroke-linecap="butt" />
<text transform="translate(263.90,346.10) rotate(-90)" font-size="33" text-anchor="end" fill="#000000">ReLU</text>
<line x1="336.30" y1="41.80" x2="336.30" y2="318.30" stroke="#000000" stroke-width="3.6" stroke-linecap="butt" />
<line x1="334.50" y1="316.50" x2="499.80" y2="316.50" stroke="#000000" stroke-width="3.6" stroke-linecap="butt" />
<line x1="322.10" y1="316.50" x2="336.30" y2="316.50" stroke="#000000" stroke-width="3.6" stroke-linecap="butt" />
<line x1="322.10" y1="182.40" x2="336.30" y2="182.40" stroke="#000000" stroke-width="3.6" stroke-linecap="butt" />
<line x1="322.10" y1="48.30" x2="336.30" y2="48.30" stroke="#000000" stroke-width="3.6" stroke-linecap="butt" />
<line x1="384.75" y1="316.50" x2="384.75" y2="330.70" stroke="#000000" stroke-width="3.6" stroke-linecap="butt" />
<text transform="translate(393.35,346.10) rotate(-90)" font-size="33" text-anchor="end" fill="#000000">linear</text>
<line x1="449.40" y1="316.50" x2="449.40" y2="330.70" stroke="#000000" stroke-width="3.6" stroke-linecap="butt" />
<text transform="translate(458.00,346.10) rotate(-90)" font-size="33" text-anchor="end" fill="#000000">ReLU</text>
<line x1="530.00" y1="41.80" x2="530.00" y2="318.30" stroke="#000000" stroke-width="3.6" stroke-linecap="butt" />
<line x1="528.20" y1="316.50" x2="693.50" y2="316.50" stroke="#000000" stroke-width="3.6" stroke-linecap="butt" />
<line x1="515.80" y1="316.50" x2="530.00" y2="316.50" stroke="#000000" stroke-width="3.6" stroke-linecap="butt" />
<line x1="515.80" y1="182.40" x2="530.00" y2="182.40" stroke="#000000" stroke-width="3.6" stroke-linecap="butt" />
<line x1="515.80" y1="48.30" x2="530.00" y2="48.30" stroke="#000000" stroke-width="3.6" stroke-linecap="butt" />
<line x1="578.45" y1="316.50" x2="578.45" y2="330.70" stroke="#000000" stroke-width="3.6" stroke-linecap="butt" />
<text transform="translate(587.05,346.10) rotate(-90)" font-size="33" text-anchor="end" fill="#000000">linear</text>
<line x1="643.10" y1="316.50" x2="643.10" y2="330.70" stroke="#000000" stroke-width="3.6" stroke-linecap="butt" />
<text transform="translate(651.70,346.10) rotate(-90)" font-size="33" text-anchor="end" fill="#000000">ReLU</text>
<line x1="142.20" y1="479.60" x2="142.20" y2="755.90" stroke="#000000" stroke-width="3.6" stroke-linecap="butt" />
<line x1="140.40" y1="754.10" x2="305.70" y2="754.10" stroke="#000000" stroke-width="3.6" stroke-linecap="butt" />
<line x1="128.00" y1="754.10" x2="142.20" y2="754.10" stroke="#000000" stroke-width="3.6" stroke-linecap="butt" />
<text transform="translate(113.30,766.30) scale(0.92,1)" font-size="36" text-anchor="end">0.00</text>
<line x1="128.00" y1="655.20" x2="142.20" y2="655.20" stroke="#000000" stroke-width="3.6" stroke-linecap="butt" />
<text transform="translate(113.30,667.40) scale(0.92,1)" font-size="36" text-anchor="end">0.05</text>
<line x1="128.00" y1="556.30" x2="142.20" y2="556.30" stroke="#000000" stroke-width="3.6" stroke-linecap="butt" />
<text transform="translate(113.30,568.50) scale(0.92,1)" font-size="36" text-anchor="end">0.10</text>
<line x1="190.65" y1="754.10" x2="190.65" y2="768.30" stroke="#000000" stroke-width="3.6" stroke-linecap="butt" />
<text transform="translate(199.25,783.70) rotate(-90)" font-size="33" text-anchor="end" fill="#000000">linear</text>
<line x1="255.30" y1="754.10" x2="255.30" y2="768.30" stroke="#000000" stroke-width="3.6" stroke-linecap="butt" />
<text transform="translate(263.90,783.70) rotate(-90)" font-size="33" text-anchor="end" fill="#000000">ReLU</text>
<line x1="336.30" y1="479.60" x2="336.30" y2="755.90" stroke="#000000" stroke-width="3.6" stroke-linecap="butt" />
<line x1="334.50" y1="754.10" x2="499.80" y2="754.10" stroke="#000000" stroke-width="3.6" stroke-linecap="butt" />
<line x1="322.10" y1="754.10" x2="336.30" y2="754.10" stroke="#000000" stroke-width="3.6" stroke-linecap="butt" />
<line x1="322.10" y1="655.20" x2="336.30" y2="655.20" stroke="#000000" stroke-width="3.6" stroke-linecap="butt" />
<line x1="322.10" y1="556.30" x2="336.30" y2="556.30" stroke="#000000" stroke-width="3.6" stroke-linecap="butt" />
<line x1="384.75" y1="754.10" x2="384.75" y2="768.30" stroke="#000000" stroke-width="3.6" stroke-linecap="butt" />
<text transform="translate(393.35,783.70) rotate(-90)" font-size="33" text-anchor="end" fill="#000000">linear</text>
<line x1="449.40" y1="754.10" x2="449.40" y2="768.30" stroke="#000000" stroke-width="3.6" stroke-linecap="butt" />
<text transform="translate(458.00,783.70) rotate(-90)" font-size="33" text-anchor="end" fill="#000000">ReLU</text>
<line x1="530.00" y1="479.60" x2="530.00" y2="755.90" stroke="#000000" stroke-width="3.6" stroke-linecap="butt" />
<line x1="528.20" y1="754.10" x2="693.50" y2="754.10" stroke="#000000" stroke-width="3.6" stroke-linecap="butt" />
<line x1="515.80" y1="754.10" x2="530.00" y2="754.10" stroke="#000000" stroke-width="3.6" stroke-linecap="butt" />
<line x1="515.80" y1="655.20" x2="530.00" y2="655.20" stroke="#000000" stroke-width="3.6" stroke-linecap="butt" />
<line x1="515.80" y1="556.30" x2="530.00" y2="556.30" stroke="#000000" stroke-width="3.6" stroke-linecap="butt" />
<line x1="578.45" y1="754.10" x2="578.45" y2="768.30" stroke="#000000" stroke-width="3.6" stroke-linecap="butt" />
<text transform="translate(587.05,783.70) rotate(-90)" font-size="33" text-anchor="end" fill="#000000">linear</text>
<line x1="643.10" y1="754.10" x2="643.10" y2="768.30" stroke="#000000" stroke-width="3.6" stroke-linecap="butt" />
<text transform="translate(651.70,783.70) rotate(-90)" font-size="33" text-anchor="end" fill="#000000">ReLU</text>
<line x1="142.20" y1="917.00" x2="142.20" y2="1193.50" stroke="#000000" stroke-width="3.6" stroke-linecap="butt" />
<line x1="140.40" y1="1191.70" x2="305.70" y2="1191.70" stroke="#000000" stroke-width="3.6" stroke-linecap="butt" />
<line x1="128.00" y1="1191.70" x2="142.20" y2="1191.70" stroke="#000000" stroke-width="3.6" stroke-linecap="butt" />
<text transform="translate(113.30,1203.90) scale(0.92,1)" font-size="36" text-anchor="end">0.00</text>
<line x1="128.00" y1="1118.47" x2="142.20" y2="1118.47" stroke="#000000" stroke-width="3.6" stroke-linecap="butt" />
<text transform="translate(113.30,1130.67) scale(0.92,1)" font-size="36" text-anchor="end">0.05</text>
<line x1="128.00" y1="1045.23" x2="142.20" y2="1045.23" stroke="#000000" stroke-width="3.6" stroke-linecap="butt" />
<text transform="translate(113.30,1057.43) scale(0.92,1)" font-size="36" text-anchor="end">0.10</text>
<line x1="128.00" y1="972.00" x2="142.20" y2="972.00" stroke="#000000" stroke-width="3.6" stroke-linecap="butt" />
<text transform="translate(113.30,984.20) scale(0.92,1)" font-size="36" text-anchor="end">0.15</text>
<line x1="190.65" y1="1191.70" x2="190.65" y2="1205.90" stroke="#000000" stroke-width="3.6" stroke-linecap="butt" />
<text transform="translate(199.25,1221.30) rotate(-90)" font-size="33" text-anchor="end" fill="#000000">linear</text>
<line x1="255.30" y1="1191.70" x2="255.30" y2="1205.90" stroke="#000000" stroke-width="3.6" stroke-linecap="butt" />
<text transform="translate(263.90,1221.30) rotate(-90)" font-size="33" text-anchor="end" fill="#000000">ReLU</text>
<line x1="336.30" y1="917.00" x2="336.30" y2="1193.50" stroke="#000000" stroke-width="3.6" stroke-linecap="butt" />
<line x1="334.50" y1="1191.70" x2="499.80" y2="1191.70" stroke="#000000" stroke-width="3.6" stroke-linecap="butt" />
<line x1="322.10" y1="1191.70" x2="336.30" y2="1191.70" stroke="#000000" stroke-width="3.6" stroke-linecap="butt" />
<line x1="322.10" y1="1118.47" x2="336.30" y2="1118.47" stroke="#000000" stroke-width="3.6" stroke-linecap="butt" />
<line x1="322.10" y1="1045.23" x2="336.30" y2="1045.23" stroke="#000000" stroke-width="3.6" stroke-linecap="butt" />
<line x1="322.10" y1="972.00" x2="336.30" y2="972.00" stroke="#000000" stroke-width="3.6" stroke-linecap="butt" />
<line x1="384.75" y1="1191.70" x2="384.75" y2="1205.90" stroke="#000000" stroke-width="3.6" stroke-linecap="butt" />
<text transform="translate(393.35,1221.30) rotate(-90)" font-size="33" text-anchor="end" fill="#000000">linear</text>
<line x1="449.40" y1="1191.70" x2="449.40" y2="1205.90" stroke="#000000" stroke-width="3.6" stroke-linecap="butt" />
<text transform="translate(458.00,1221.30) rotate(-90)" font-size="33" text-anchor="end" fill="#000000">ReLU</text>
<line x1="530.00" y1="917.00" x2="530.00" y2="1193.50" stroke="#000000" stroke-width="3.6" stroke-linecap="butt" />
<line x1="528.20" y1="1191.70" x2="693.50" y2="1191.70" stroke="#000000" stroke-width="3.6" stroke-linecap="butt" />
<line x1="515.80" y1="1191.70" x2="530.00" y2="1191.70" stroke="#000000" stroke-width="3.6" stroke-linecap="butt" />
<line x1="515.80" y1="1118.47" x2="530.00" y2="1118.47" stroke="#000000" stroke-width="3.6" stroke-linecap="butt" />
<line x1="515.80" y1="1045.23" x2="530.00" y2="1045.23" stroke="#000000" stroke-width="3.6" stroke-linecap="butt" />
<line x1="515.80" y1="972.00" x2="530.00" y2="972.00" stroke="#000000" stroke-width="3.6" stroke-linecap="butt" />
<line x1="578.45" y1="1191.70" x2="578.45" y2="1205.90" stroke="#000000" stroke-width="3.6" stroke-linecap="butt" />
<text transform="translate(587.05,1221.30) rotate(-90)" font-size="33" text-anchor="end" fill="#000000">linear</text>
<line x1="643.10" y1="1191.70" x2="643.10" y2="1205.90" stroke="#000000" stroke-width="3.6" stroke-linecap="butt" />
<text transform="translate(651.70,1221.30) rotate(-90)" font-size="33" text-anchor="end" fill="#000000">ReLU</text>
<line x1="955.00" y1="917.70" x2="955.00" y2="1193.20" stroke="#000000" stroke-width="3.6" stroke-linecap="butt" />
<line x1="953.20" y1="1191.40" x2="1230.90" y2="1191.40" stroke="#000000" stroke-width="3.6" stroke-linecap="butt" />
<line x1="940.80" y1="1191.40" x2="955.00" y2="1191.40" stroke="#000000" stroke-width="3.6" stroke-linecap="butt" />
<text transform="translate(926.10,1203.60) scale(0.92,1)" font-size="36" text-anchor="end">0.000</text>
<line x1="940.80" y1="1112.30" x2="955.00" y2="1112.30" stroke="#000000" stroke-width="3.6" stroke-linecap="butt" />
<text transform="translate(926.10,1124.50) scale(0.92,1)" font-size="36" text-anchor="end">0.025</text>
<line x1="940.80" y1="1033.20" x2="955.00" y2="1033.20" stroke="#000000" stroke-width="3.6" stroke-linecap="butt" />
<text transform="translate(926.10,1045.40) scale(0.92,1)" font-size="36" text-anchor="end">0.050</text>
<line x1="940.80" y1="954.10" x2="955.00" y2="954.10" stroke="#000000" stroke-width="3.6" stroke-linecap="butt" />
<text transform="translate(926.10,966.30) scale(0.92,1)" font-size="36" text-anchor="end">0.075</text>
<line x1="955.00" y1="479.60" x2="955.00" y2="756.00" stroke="#000000" stroke-width="3.6" stroke-linecap="butt" />
<line x1="953.20" y1="754.20" x2="1230.90" y2="754.20" stroke="#000000" stroke-width="3.6" stroke-linecap="butt" />
<line x1="940.80" y1="754.20" x2="955.00" y2="754.20" stroke="#000000" stroke-width="3.6" stroke-linecap="butt" />
<text transform="translate(926.10,766.40) scale(0.92,1)" font-size="36" text-anchor="end">0.00</text>
<line x1="940.80" y1="674.60" x2="955.00" y2="674.60" stroke="#000000" stroke-width="3.6" stroke-linecap="butt" />
<text transform="translate(926.10,686.80) scale(0.92,1)" font-size="36" text-anchor="end">0.05</text>
<line x1="940.80" y1="595.00" x2="955.00" y2="595.00" stroke="#000000" stroke-width="3.6" stroke-linecap="butt" />
<text transform="translate(926.10,607.20) scale(0.92,1)" font-size="36" text-anchor="end">0.10</text>
<line x1="940.80" y1="515.40" x2="955.00" y2="515.40" stroke="#000000" stroke-width="3.6" stroke-linecap="butt" />
<text transform="translate(926.10,527.60) scale(0.92,1)" font-size="36" text-anchor="end">0.15</text>
<line x1="1094.80" y1="754.20" x2="1094.80" y2="768.40" stroke="#000000" stroke-width="3.6" stroke-linecap="butt" />
<line x1="1229.10" y1="754.20" x2="1229.10" y2="768.40" stroke="#000000" stroke-width="3.6" stroke-linecap="butt" />
</svg>
</body></html>
